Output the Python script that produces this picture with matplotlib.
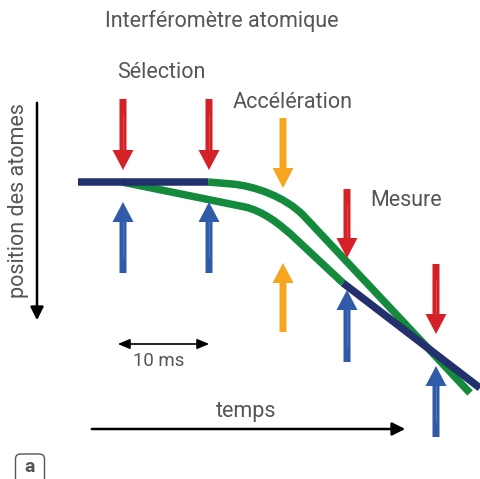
import matplotlib
matplotlib.use("Agg")
import matplotlib.pyplot as plt
from matplotlib.path import Path
from matplotlib.patches import PathPatch, Polygon, FancyBboxPatch, FancyArrowPatch

# ---- data (pixel-space diagram) ----
pulse_x = [123, 209, 283, 347, 436]
pulse_kind = ["sel", "sel", "acc", "mes", "mes"]
down_color = ["#d42027", "#d42027", "#f6a51f", "#d42027", "#d42027"]
up_color = ["#2f5ba8", "#2f5ba8", "#f6a51f", "#2f5ba8", "#2f5ba8"]
down_top = [99, 99, 118, 189, 264]
down_tip = [170, 170, 188, 258, 334]
up_tip = [202, 202, 263, 290, 366]
up_bottom = [273, 273, 332, 362, 437]

upper_green = [(208, 182), (232, 184), (255, 186), (285, 197), (303, 215), (470, 393)]
upper_codes = [Path.MOVETO, Path.LINETO, Path.CURVE4, Path.CURVE4, Path.CURVE4, Path.LINETO]
lower_green = [(122, 182), (245, 207), (262, 211), (278, 222), (297, 240), (343, 283)]
lower_codes = [Path.MOVETO, Path.LINETO, Path.CURVE4, Path.CURVE4, Path.CURVE4, Path.LINETO]
navy_a = [(78, 182), (208, 182)]
navy_b = [(343, 283), (480, 388)]

labels = {
    "Interféromètre atomique": (222, 21),
    "Sélection": (161, 72),
    "Accélération": (293, 102),
    "Mesure": (406, 200),
    "10 ms": (159, 361),
    "temps": (246, 411),
}

GREEN = "#138a3c"
NAVY = "#23306e"
TXT = "#555555"

fig = plt.figure(figsize=(4.80, 4.79), dpi=100)
ax = fig.add_axes([0, 0, 1, 1])
ax.set_xlim(0, 480)
ax.set_ylim(479, 0)
ax.axis("off")

plt.rcParams['font.family'] = ['Roboto', 'DejaVu Sans']

LW = 7.5 * 0.72

# paths
for pts, codes in [(upper_green, upper_codes), (lower_green, lower_codes)]:
    ax.add_patch(PathPatch(Path(pts, codes), fill=False, edgecolor=GREEN, lw=LW,
                           capstyle="butt", joinstyle="round", zorder=2))
for seg in [navy_a, navy_b]:
    xs, ys = zip(*seg)
    ax.plot(xs, ys, color=NAVY, lw=LW, solid_capstyle="butt", zorder=3)


def arrow(x, y0, ytip, color, shaft_w=7, head_w=21, head_l=20):
    d = 1 if ytip > y0 else -1
    yb = ytip - d * head_l
    pts = [(x - shaft_w / 2, y0), (x + shaft_w / 2, y0), (x + shaft_w / 2, yb),
           (x + head_w / 2, yb), (x, ytip), (x - head_w / 2, yb), (x - shaft_w / 2, yb)]
    ax.add_patch(Polygon(pts, closed=True, facecolor=color, edgecolor="none", zorder=4))


for i, x in enumerate(pulse_x):
    arrow(x, down_top[i], down_tip[i], down_color[i])
    arrow(x, up_bottom[i], up_tip[i], up_color[i])
    if pulse_kind[i] != "acc":
        # light center line as in the reference
        ax.plot([x, x], [down_top[i] + 16, down_tip[i] - 20], color="white", lw=0.5, alpha=0.25, zorder=5)
        ax.plot([x, x], [up_tip[i] + 20, up_bottom[i] - 16], color="white", lw=0.5, alpha=0.25, zorder=5)

# axis arrows
ax.add_patch(FancyArrowPatch((37, 100), (37, 323), arrowstyle="-|>,head_length=6,head_width=3",
                             color="black", lw=1.8, mutation_scale=1.3, zorder=4))
ax.add_patch(FancyArrowPatch((89, 429), (408, 429), arrowstyle="-|>,head_length=6,head_width=3",
                             color="black", lw=1.8, mutation_scale=1.3, zorder=4))
ax.add_patch(FancyArrowPatch((115, 344), (212, 344), arrowstyle="<|-|>,head_length=6,head_width=2.5",
                             color="black", lw=1.2, mutation_scale=1.2, zorder=4))

for t, (x, y) in labels.items():
    ax.text(x, y, t, ha="center", va="center", fontsize=15.5 if t != "10 ms" else 13.4,
            color=TXT, zorder=6)

ax.text(19, 201, "position des atomes", rotation=90, ha="center", va="center",
        fontsize=15.5, color=TXT, zorder=6)

ax.add_patch(FancyBboxPatch((15.5, 454), 29, 40, boxstyle="round,pad=0,rounding_size=5",
                            facecolor="white", edgecolor="#555555", lw=1.0, zorder=5))
ax.text(30, 467, "a", ha="center", va="center", fontsize=14, fontweight="bold", color=TXT, zorder=6)

fig.savefig("out.png", dpi=100)
